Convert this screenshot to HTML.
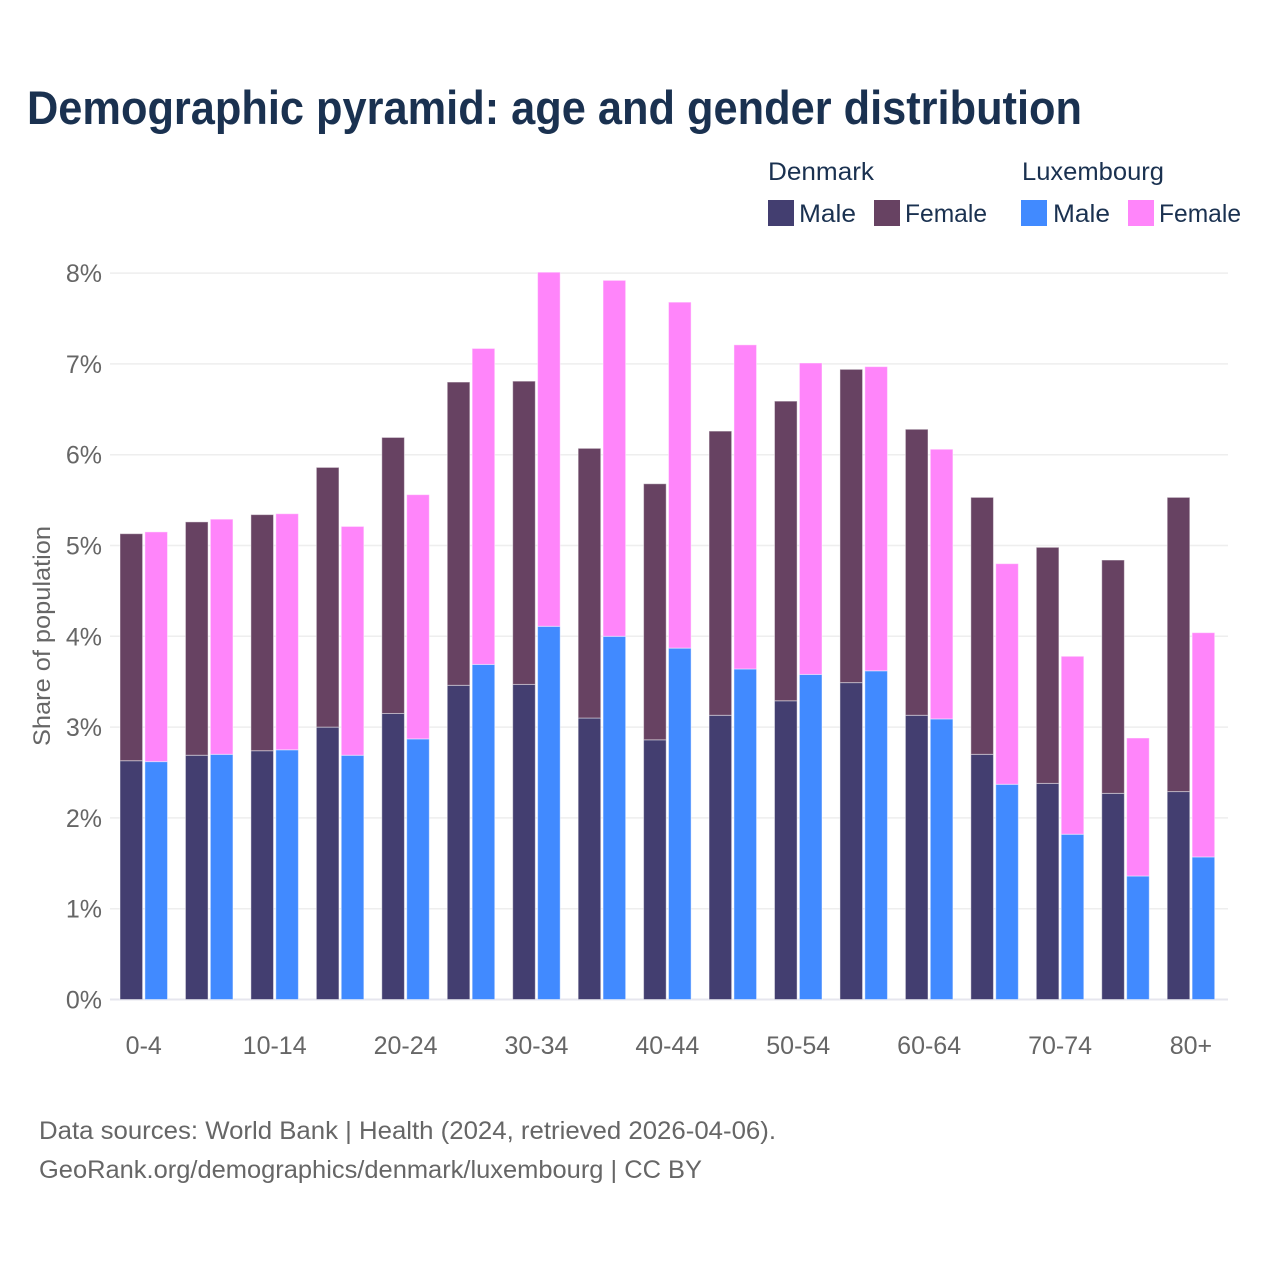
<!DOCTYPE html>
<html lang="en">
<head>
<meta charset="utf-8">
<title>Demographic pyramid</title>
<style>
html,body{margin:0;padding:0;background:#fff}
svg{display:block}
text{font-family:"Liberation Sans",sans-serif}
</style>
</head>
<body>
<svg id="chart" xmlns="http://www.w3.org/2000/svg" width="1280" height="1280" viewBox="0 0 1280 1280">
  <rect width="1280" height="1280" fill="#fff"/>
  <text x="27" y="124" font-size="47" font-weight="700" fill="#1a3150" textLength="1055" lengthAdjust="spacingAndGlyphs">Demographic pyramid: age and gender distribution</text>

  <g font-size="25" fill="#1a3150">
    <text x="768" y="180" textLength="106" lengthAdjust="spacingAndGlyphs">Denmark</text>
    <text x="1022" y="180" textLength="142" lengthAdjust="spacingAndGlyphs">Luxembourg</text>
    <rect x="768" y="200" width="26" height="26" fill="#433e70"/>
    <text x="799" y="222" textLength="57" lengthAdjust="spacingAndGlyphs">Male</text>
    <rect x="874" y="200" width="26" height="26" fill="#674262"/>
    <text x="905" y="222" textLength="82" lengthAdjust="spacingAndGlyphs">Female</text>
    <rect x="1021" y="200" width="26" height="26" fill="#418aff"/>
    <text x="1053" y="222" textLength="57" lengthAdjust="spacingAndGlyphs">Male</text>
    <rect x="1128" y="200" width="26" height="26" fill="#ff85fa"/>
    <text x="1159" y="222" textLength="82" lengthAdjust="spacingAndGlyphs">Female</text>
  </g>

  <g id="grid"></g>
  <g id="bars"></g>
  <g id="yticks"></g>
  <g id="xticks"></g>

  <text transform="translate(50,636) rotate(-90)" text-anchor="middle" font-size="24" fill="#666" textLength="220" lengthAdjust="spacingAndGlyphs">Share of population</text>

  <text x="39" y="1139" font-size="25" fill="#666" textLength="737" lengthAdjust="spacingAndGlyphs">Data sources: World Bank | Health (2024, retrieved 2026-04-06).</text>
  <text x="39" y="1178" font-size="25" fill="#666" textLength="663" lengthAdjust="spacingAndGlyphs">GeoRank.org/demographics/denmark/luxembourg | CC BY</text>
</svg>
<script>
const categories = ["0-4","5-9","10-14","15-19","20-24","25-29","30-34","35-39","40-44","45-49","50-54","55-59","60-64","65-69","70-74","75-79","80+"];
const xTickLabels = ["0-4","10-14","20-24","30-34","40-44","50-54","60-64","70-74","80+"];
const yTicks = [0,1,2,3,4,5,6,7,8];
const denmarkMale = [2.63,2.69,2.74,3.00,3.15,3.46,3.47,3.10,2.86,3.13,3.29,3.49,3.13,2.70,2.38,2.27,2.29];
const denmarkFemale = [2.50,2.57,2.60,2.86,3.04,3.34,3.34,2.97,2.82,3.13,3.30,3.45,3.15,2.83,2.60,2.57,3.24];
const luxembourgMale = [2.62,2.70,2.75,2.69,2.87,3.69,4.11,4.00,3.87,3.64,3.58,3.62,3.09,2.37,1.82,1.36,1.57];
const luxembourgFemale = [2.53,2.59,2.60,2.52,2.69,3.48,3.90,3.92,3.81,3.57,3.43,3.35,2.97,2.43,1.96,1.52,2.47];

const NS = "http://www.w3.org/2000/svg";
const plotLeft = 110, plotRight = 1228;
const yZero = 999.5, yPerUnit = 90.8;
const xFirst = 143.75, xStep = 65.45;
const barWidth = 22.6, barOffset = 12.45;

function yScale(v) { return yZero - v * yPerUnit; }
function xScale(i) { return xFirst + i * xStep; }

function addBar(parent, name, cx, v0, v1, fill) {
  const r = document.createElementNS(NS, "rect");
  
  
  r.setAttribute("x", cx - barWidth / 2);
  r.setAttribute("width", barWidth);
  r.setAttribute("y", yScale(v1));
  r.setAttribute("height", yScale(v0) - yScale(v1));
  r.setAttribute("fill", fill);
  r.setAttribute("stroke", "#fff");
  r.setAttribute("stroke-opacity", "0.45");
  r.setAttribute("stroke-width", "1");
  parent.appendChild(r);
}

const grid = document.getElementById("grid");
const yticksG = document.getElementById("yticks");
yTicks.forEach(function (t) {
  const line = document.createElementNS(NS, "line");
  
  
  line.setAttribute("x1", plotLeft);
  line.setAttribute("x2", plotRight);
  line.setAttribute("y1", yScale(t));
  line.setAttribute("y2", yScale(t));
  line.setAttribute("stroke", t === 0 ? "#e6e6ee" : "#eeeeee");
  line.setAttribute("stroke-width", t === 0 ? "2" : "1.5");
  grid.appendChild(line);

  const label = document.createElementNS(NS, "text");
  
  
  label.setAttribute("x", 102);
  label.setAttribute("y", yScale(t) + 9);
  label.setAttribute("text-anchor", "end");
  label.setAttribute("font-size", "25");
  label.setAttribute("fill", "#666");
  label.textContent = t + "%";
  yticksG.appendChild(label);
});

const bars = document.getElementById("bars");
categories.forEach(function (c, i) {
  const cx = xScale(i);
  const dkX = cx - barOffset, luX = cx + barOffset;
  addBar(bars, "bar-denmark-male-" + c, dkX, 0, denmarkMale[i], "#433e70");
  addBar(bars, "bar-denmark-female-" + c, dkX, denmarkMale[i], denmarkMale[i] + denmarkFemale[i], "#674262");
  addBar(bars, "bar-luxembourg-male-" + c, luX, 0, luxembourgMale[i], "#418aff");
  addBar(bars, "bar-luxembourg-female-" + c, luX, luxembourgMale[i], luxembourgMale[i] + luxembourgFemale[i], "#ff85fa");
});

const xticksG = document.getElementById("xticks");
xTickLabels.forEach(function (c) {
  const label = document.createElementNS(NS, "text");
  
  
  label.setAttribute("x", xScale(categories.indexOf(c)));
  label.setAttribute("y", 1054);
  label.setAttribute("text-anchor", "middle");
  label.setAttribute("font-size", "25");
  label.setAttribute("fill", "#666");
  label.textContent = c;
  xticksG.appendChild(label);
});
</script>
</body>
</html>
